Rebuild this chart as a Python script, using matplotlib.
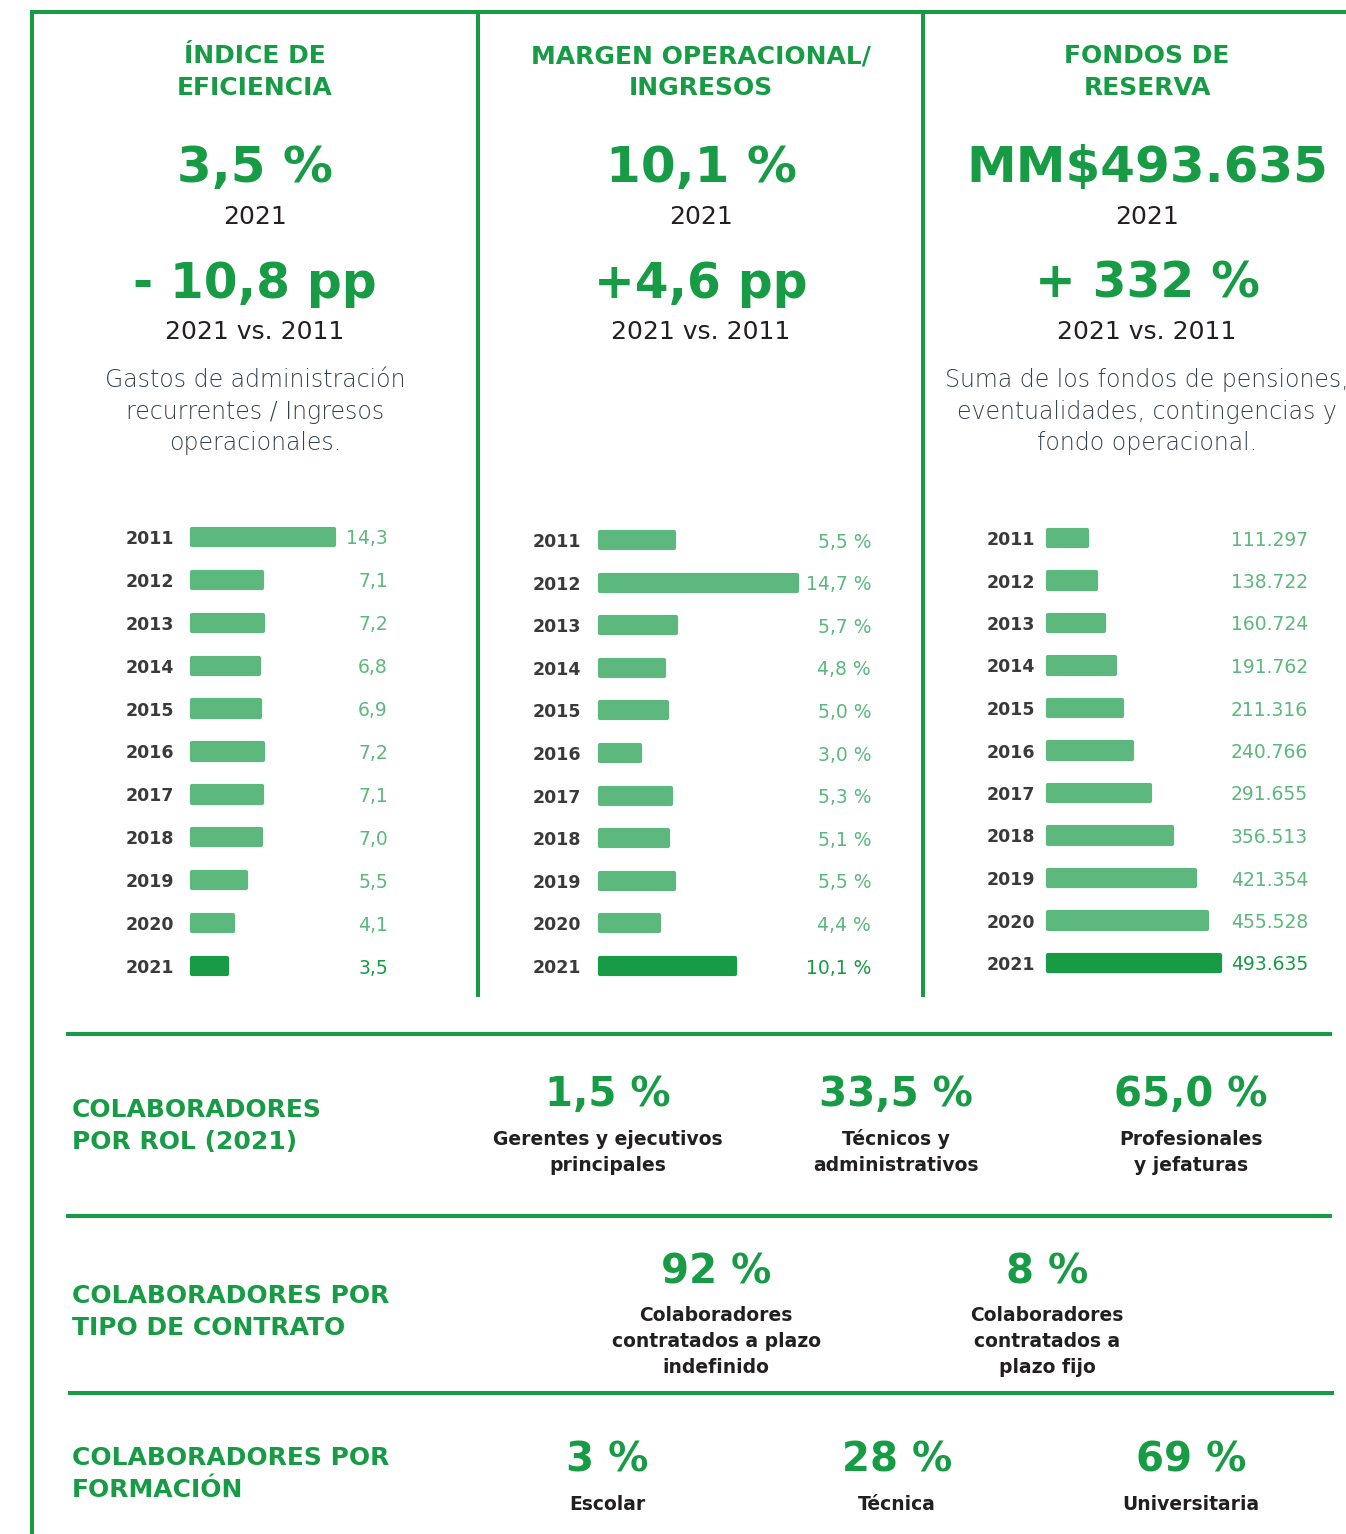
import matplotlib.pyplot as plt

plt.rcParams['font.family'] = ['DejaVu Sans']

GREEN = '#179b45'
BAR = '#5cb87c'
DARK = '#231f20'
GREY = '#3a3a3a'
NOTE = '#34414a'

W, H = 1346, 1534

# data
years = [2011, 2012, 2013, 2014, 2015, 2016, 2017, 2018, 2019, 2020, 2021]
eficiencia = [14.3, 7.1, 7.2, 6.8, 6.9, 7.2, 7.1, 7.0, 5.5, 4.1, 3.5]
margen = [5.5, 14.7, 5.7, 4.8, 5.0, 3.0, 5.3, 5.1, 5.5, 4.4, 10.1]
fondos = [111297, 138722, 160724, 191762, 211316, 240766, 291655,
          356513, 421354, 455528, 493635]

panel_titles = [["ÍNDICE DE", "EFICIENCIA"],
                ["MARGEN OPERACIONAL/", "INGRESOS"],
                ["FONDOS DE", "RESERVA"]]
panel_headline = ["3,5 %", "10,1 %", "MM$493.635"]
panel_year = ["2021", "2021", "2021"]
panel_change = ["- 10,8 pp", "+4,6 pp", "+ 332 %"]
panel_period = ["2021 vs. 2011", "2021 vs. 2011", "2021 vs. 2011"]
panel_notes = [["Gastos de administración", "recurrentes / Ingresos", "operacionales."],
               [],
               ["Suma de los fondos de pensiones,", "eventualidades, contingencias y",
                "fondo operacional."]]

rol_values = ["1,5 %", "33,5 %", "65,0 %"]
rol_labels = [["Gerentes y ejecutivos", "principales"],
              ["Técnicos y", "administrativos"],
              ["Profesionales", "y jefaturas"]]
contrato_values = ["92 %", "8 %"]
contrato_labels = [["Colaboradores", "contratados a plazo", "indefinido"],
                   ["Colaboradores", "contratados a", "plazo fijo"]]
formacion_values = ["3 %", "28 %", "69 %"]
formacion_labels = [["Escolar"], ["Técnica"], ["Universitaria"]]


def coma(v):
    return f"{v:.1f}".replace('.', ',')


def coma_pct(v):
    return coma(v) + " %"


def miles(v):
    return f"{v:,}".replace(',', '.')


fig = plt.figure(figsize=(W / 100, H / 100), dpi=100)
bg = fig.add_axes([0, 0, 1, 1])
bg.set_xlim(0, W)
bg.set_ylim(H, 0)
bg.axis('off')


def lines(x, y0, rows, step, **kw):
    for i, s in enumerate(rows):
        bg.text(x, y0 + i * step, s, ha='center', va='baseline', **kw)


# frame lines
lw = 2.9
bg.plot([30, W], [12, 12], color=GREEN, lw=lw, solid_capstyle='butt')
bg.plot([32, 32], [10, H], color=GREEN, lw=lw, solid_capstyle='butt')
for xd in [478, 923]:
    bg.plot([xd, xd], [12, 997], color=GREEN, lw=lw, solid_capstyle='butt')
bg.plot([66, 1332], [1034, 1034], color=GREEN, lw=lw, solid_capstyle='butt')
bg.plot([66, 1332], [1216, 1216], color=GREEN, lw=lw, solid_capstyle='butt')
bg.plot([68, 1334], [1393, 1393], color=GREEN, lw=lw, solid_capstyle='butt')

# panel headers
centers = [255, 701, 1147]
for k, cx in enumerate(centers):
    lines(cx, 63, panel_titles[k], 32, color=GREEN, fontsize=18, fontweight='bold')
    bg.text(cx, 182, panel_headline[k], ha='center', va='baseline', color=GREEN,
            fontsize=36, fontweight='bold')
    bg.text(cx, 224, panel_year[k], ha='center', va='baseline', color=DARK, fontsize=18)
    bg.text(cx, 298, panel_change[k], ha='center', va='baseline', color=GREEN,
            fontsize=35, fontweight='bold')
    bg.text(cx, 339, panel_period[k], ha='center', va='baseline', color=DARK, fontsize=18)
    lines(cx, 387, panel_notes[k], 31.5, color=NOTE, fontsize=17, fontweight='light')


def bar_panel(left, right, first_row, row_h, values, scale, fmt, pad):
    h = row_h * len(values)
    top = first_row - row_h / 2
    ax = fig.add_axes([left / W, 1 - (top + h) / H, (right - left) / W, h / H])
    colors = [BAR] * (len(values) - 1) + [GREEN]
    ax.barh(range(len(values)), values, height=0.38, color=colors, edgecolor=colors,
            linewidth=3, joinstyle='round', clip_on=False)
    ax.set_xlim(0, (right - left) / scale)
    ax.set_ylim(len(values) - 0.5, -0.5)
    ax.set_yticks(range(len(values)), [str(y) for y in years])
    ax.tick_params(axis='y', length=0, pad=pad, labelsize=12.5, labelcolor=GREY)
    for t in ax.get_yticklabels():
        t.set_fontweight('bold')
    ax.set_xticks([])
    for sp in ax.spines.values():
        sp.set_visible(False)
    ax.patch.set_alpha(0)
    for i, v in enumerate(values):
        ax.text(1.0, i, fmt(v), transform=ax.get_yaxis_transform(), ha='right',
                va='center_baseline', fontsize=13.5,
                color=GREEN if i == len(values) - 1 else BAR)
    return ax


bar_panel(192, 388, 537, 42.9, eficiencia, 9.9, coma, 13)
bar_panel(600, 871, 540, 42.6, margen, 13.4, coma_pct, 13.5)
bar_panel(1048, 1308, 538, 42.5, fondos, 172 / 493635, miles, 9)

# bottom sections
sec_label = dict(color=GREEN, fontsize=18, fontweight='bold')
for y0, rows in [(1117, ["COLABORADORES", "POR ROL (2021)"]),
                 (1303, ["COLABORADORES POR", "TIPO DE CONTRATO"]),
                 (1465, ["COLABORADORES POR", "FORMACIÓN"])]:
    for i, s in enumerate(rows):
        bg.text(72, y0 + i * 32, s, ha='left', va='baseline', **sec_label)

big = dict(color=GREEN, fontsize=29, fontweight='bold')
small = dict(color=DARK, fontsize=13.5, fontweight='bold')

for cx, val, lab in zip([608, 896, 1191], rol_values, rol_labels):
    bg.text(cx, 1106, val, ha='center', va='baseline', **big)
    lines(cx, 1145, lab, 26, **small)

for cx, val, lab in zip([716, 1047], contrato_values, contrato_labels):
    bg.text(cx, 1284, val, ha='center', va='baseline', **big)
    lines(cx, 1321, lab, 26, **small)

for cx, val, lab in zip([607, 897, 1191], formacion_values, formacion_labels):
    bg.text(cx, 1471, val, ha='center', va='baseline', **big)
    lines(cx, 1510, lab, 26, **small)

fig.savefig('out.png', dpi=100)
